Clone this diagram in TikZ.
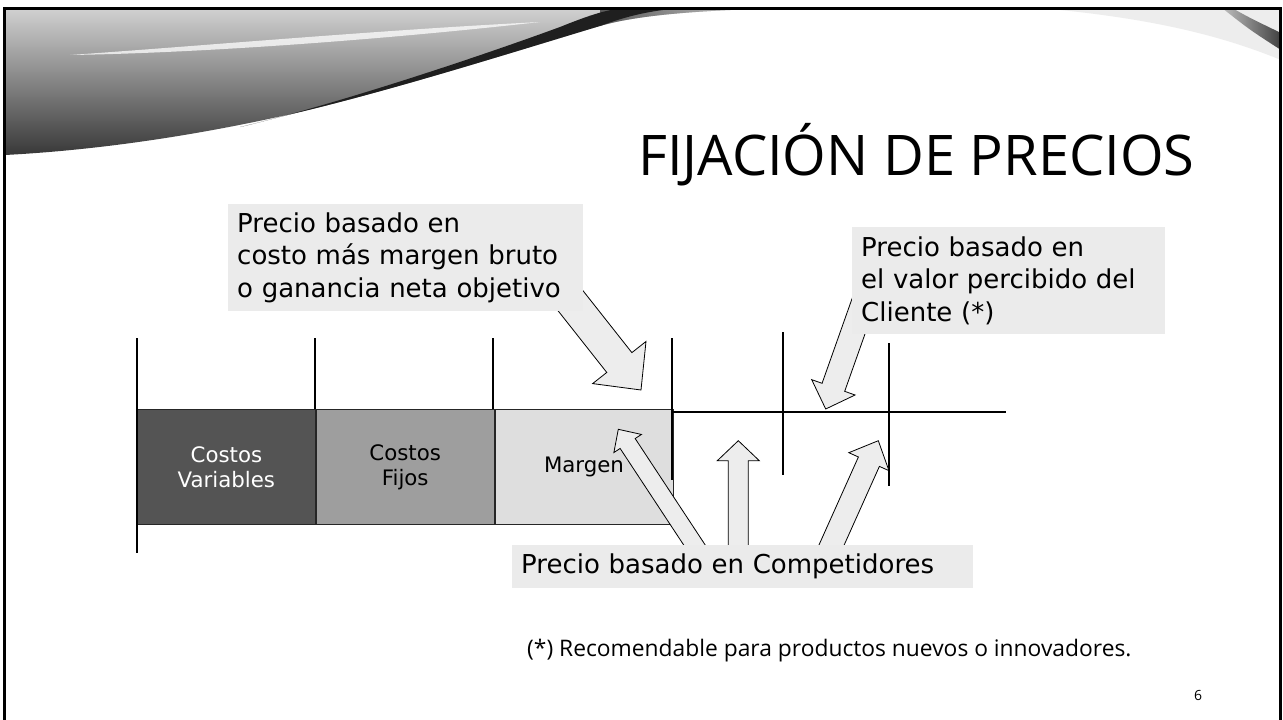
\documentclass[tikz,border=0pt]{standalone}
\usepackage{fontspec}
\setmainfont{DejaVu Sans}
\newfontfamily\titlefont{Open Sans}
\usetikzlibrary{calc,positioning}
\colorlet{boxgray}{black!8}
\colorlet{arrowgray}{black!7}
\tikzset{
  txtbox/.style = {fill=boxgray, anchor=north west, align=left, inner xsep=9pt,
    inner ysep=0pt, font=\fontsize{26}{32.5}\selectfont},
  bar/.style = {draw=black!85, line width=0.8pt, anchor=north west, minimum width=178pt,
    minimum height=115pt, inner sep=0pt, align=center, font=\fontsize{21.3}{25}\selectfont},
  tick/.style = {line width=2pt},
  barrow/.style = {draw, fill=arrowgray, line width=0.8pt}
}
% block arrow: tail, tip, half shaft, half head, head length
\newcommand{\blockarrow}[5]{%
  \coordinate (hb) at ($(#2)!#5pt!(#1)$);
  \draw[barrow] ($(#1)!#3pt!90:(#2)$) -- ($(hb)!#3pt!-90:(#1)$) -- ($(hb)!#4pt!-90:(#1)$)
    -- (#2) -- ($(hb)!#4pt!90:(#1)$) -- ($(hb)!#3pt!90:(#1)$) -- ($(#1)!#3pt!-90:(#2)$) -- cycle;
}

\begin{document}
\begin{tikzpicture}[x=1pt,y=-1pt]
  \useasboundingbox (0,0) rectangle (1283,720);
  \fill[white] (0,0) rectangle (1283,720);
  % swoosh, top left
  \shade[top color=black!18, bottom color=black!78] (5,8) -- (830,8)
    .. controls (720,8) and (640,14) .. (600,26)
    .. controls (520,50) and (400,88) .. (300,112)
    .. controls (200,135) and (100,150) .. (5,155) -- cycle;
  \shade[left color=black!65, right color=white] (600,8) -- (830,8)
    .. controls (720,8) and (640,14) .. (600,26) -- cycle;
  \fill[white, opacity=0.75] (70,55) .. controls (200,46) and (380,30) .. (540,22)
    .. controls (380,40) and (200,53) .. (70,55) -- cycle;
  \fill[black!88] (240,127) .. controls (330,106) and (470,60) .. (560,27)
    .. controls (590,15) and (610,8) .. (630,8) -- (680,8)
    .. controls (650,11) and (630,15) .. (600,26)
    .. controls (520,50) and (400,88) .. (300,112)
    .. controls (275,118) and (258,123) .. (240,127) -- cycle;
  % page curl, top right
  \fill[black!7] (1040,8) -- (1281,8) -- (1281,60) .. controls (1220,35) and (1150,18) .. (1040,8) -- cycle;
  \shade[left color=black!25, right color=black!75] (1222,8) -- (1232,8)
    .. controls (1250,18) .. (1281,33) -- (1281,50) .. controls (1250,30) .. (1222,8) -- cycle;
  % frame
  \draw[line width=3pt] (4.5,720) -- (4.5,8) -- (1280.5,8) -- (1280.5,720);
  % title
  \node[anchor=base west, inner sep=0pt, font=\titlefont\fontsize{56}{60}\selectfont]
    (title) at (638,175) {FIJACIÓN DE PRECIOS};
  % bars
  \node[bar, fill=black!67, text=white] (cv) at (137,409) {Costos\\Variables};
  \node[bar, fill=black!38, right=0pt of cv] (cf) {Costos\\Fijos};
  \node[bar, fill=black!13, right=0pt of cf] (mg) {Margen};
  % ticks
  \draw[tick] (137,338) -- (137,553);
  \foreach \x in {315,493}
    \draw[tick] (\x,338) -- (\x,409);
  \draw[tick] (672,338) -- (672,480);
  \draw[tick] (782.5,332) -- (782.5,475);
  \draw[tick] (889,343) -- (889,486);
  \draw[tick] (672,411.7) -- (1006,411.7);
  % arrows
  \coordinate (t1) at (551,276);   \coordinate (p1) at (641,390);
  \coordinate (t2) at (865,298);   \coordinate (p2) at (825.7,409);
  \coordinate (ta) at (702.7,557.5); \coordinate (pa) at (618.3,429.3);
  \coordinate (tb) at (738.3,560); \coordinate (pb) at (738.3,440.7);
  \coordinate (tc) at (825.4,558.7); \coordinate (pc) at (878.3,440.7);
  \blockarrow{t1}{p1}{16}{34}{35}
  \blockarrow{t2}{p2}{12}{23}{23}
  \blockarrow{ta}{pa}{9}{16.5}{17}
  \blockarrow{tb}{pb}{10}{21}{20}
  \blockarrow{tc}{pc}{11.5}{22}{23}
  % text boxes
  \node[txtbox, text width=337pt, minimum height=107pt] (costo) at (228,204)
    {Precio basado en\\costo más margen bruto\\o ganancia neta objetivo};
  \node[txtbox, text width=295pt, minimum height=107pt] (cliente) at (852,227)
    {Precio basado en\\el valor percibido del\\Cliente (*)};
  \node[txtbox, text width=443pt, minimum height=43pt] (compet) at (512,545)
    {Precio basado en Competidores};
  % footnote and page
  \node[anchor=base west, inner sep=0pt, font=\titlefont\fontsize{22.8}{26}\selectfont]
    (nota) at (527,656) {(*) Recomendable para productos nuevos o innovadores.};
  \node[inner sep=0pt, font=\titlefont\fontsize{14}{16}\selectfont] (pagina) at (1198,695) {6};
\end{tikzpicture}
\end{document}
